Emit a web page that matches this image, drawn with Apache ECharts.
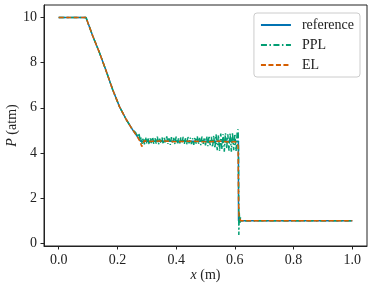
<!DOCTYPE html>
<html>
<head>
<meta charset="utf-8">
<script src="https://cdn.jsdelivr.net/npm/echarts@6/dist/echarts.min.js"></script>
<style>html,body{margin:0;padding:0;background:#fff}#c{width:374px;height:290px}</style>
</head>
<body>
<div id="c"></div>
<script>
// ---- data ----
var xTicks = [0.0, 0.2, 0.4, 0.6, 0.8, 1.0];
var yTicks = [0, 2, 4, 6, 8, 10];

var refX = [0, 0.093, 0.116, 0.139, 0.162, 0.184, 0.207, 0.230, 0.252, 0.269, 0.279, 0.612, 0.6125, 1.0];
var refP = [10, 10, 9.18, 8.44, 7.62, 6.80, 6.05, 5.48, 5.02, 4.70, 4.52, 4.52, 1.0, 1.0];

var pplX = [0, 0.093, 0.116, 0.139, 0.162, 0.184, 0.207, 0.230, 0.252, 0.262, 0.268, 0.273, 0.278, 0.281,
  0.284, 0.288, 0.292, 0.296, 0.300, 0.304, 0.308, 0.312, 0.316, 0.320, 0.324, 0.328, 0.332, 0.336, 0.340,
  0.344, 0.348, 0.352, 0.356, 0.360, 0.364, 0.368, 0.372, 0.376, 0.380, 0.384, 0.388, 0.392, 0.396, 0.400,
  0.404, 0.408, 0.412, 0.416, 0.420, 0.424, 0.428, 0.432, 0.436, 0.440, 0.444, 0.448, 0.452, 0.456, 0.460,
  0.464, 0.468, 0.472, 0.476, 0.480, 0.484, 0.488, 0.492, 0.496, 0.500, 0.504, 0.508, 0.512, 0.516, 0.520,
  0.524, 0.528, 0.532, 0.536, 0.540, 0.544, 0.548, 0.552, 0.556, 0.560, 0.564, 0.568, 0.572, 0.576, 0.580,
  0.584, 0.588, 0.592, 0.596, 0.600, 0.604, 0.608, 0.611, 0.6125, 0.6135, 0.615, 0.617, 0.619, 0.622, 1.0];
var pplP = [10, 10, 9.18, 8.44, 7.62, 6.80, 6.05, 5.48, 5.02, 4.90, 4.72, 4.88, 4.55, 4.70,
  4.40, 4.66, 4.38, 4.70, 4.42, 4.68, 4.36, 4.64, 4.44, 4.71, 4.39, 4.66, 4.41, 4.72, 4.37,
  4.63, 4.43, 4.69, 4.38, 4.67, 4.42, 4.73, 4.40, 4.65, 4.36, 4.70, 4.43, 4.67, 4.39, 4.72,
  4.41, 4.64, 4.37, 4.69, 4.44, 4.71, 4.40, 4.66, 4.38, 4.73, 4.42, 4.68, 4.39, 4.65, 4.36,
  4.70, 4.41, 4.74, 4.38, 4.67, 4.35, 4.72, 4.40, 4.69, 4.33, 4.74, 4.30, 4.76, 4.34, 4.71,
  4.25, 4.78, 4.20, 4.82, 4.12, 4.80, 4.08, 4.86, 4.15, 4.84, 4.06, 4.88, 4.18, 4.83, 4.10,
  4.87, 4.05, 4.90, 4.12, 4.85, 4.08, 4.92, 5.05, 4.20, 0.37, 1.35, 0.85, 1.15, 1.0, 1.0];

var elX = [0, 0.093, 0.116, 0.139, 0.162, 0.184, 0.207, 0.230, 0.252, 0.269, 0.277, 0.283, 0.287, 0.292,
  0.300, 0.350, 0.400, 0.450, 0.500, 0.550, 0.580, 0.600, 0.608, 0.611, 0.6125, 0.614, 0.616, 0.620, 1.0];
var elP = [10, 10, 9.18, 8.44, 7.62, 6.80, 6.05, 5.48, 5.02, 4.70, 4.50, 4.28, 4.42, 4.55,
  4.50, 4.53, 4.50, 4.52, 4.49, 4.52, 4.48, 4.50, 4.45, 4.30, 2.0, 1.2, 1.15, 1.0, 1.0];

var names = ['reference', 'PPL', 'EL'];
var colors = ['#0173B2', '#029E73', '#D55E00'];

function pairs(xs, ys) { return xs.map(function (x, i) { return [x, ys[i]]; }); }

var font = 'Liberation Serif';
var chart = echarts.init(document.getElementById('c'), null, { renderer: 'canvas' });
chart.setOption({
  animation: false,
  backgroundColor: '#fff',
  grid: { left: 44, right: 7, top: 5, bottom: 44, show: true, borderColor: '#222', borderWidth: 1,
    backgroundColor: 'transparent', containLabel: false, outerBoundsMode: 'none' },
  legend: {
    right: 14, top: 13, orient: 'vertical',
    data: names,
    itemWidth: 30, itemHeight: 14, itemGap: 6,
    padding: [5, 6, 5, 6],
    borderColor: '#ccc', borderWidth: 1, borderRadius: 3,
    backgroundColor: 'rgba(255,255,255,0.8)',
    itemStyle: { opacity: 0 },
    textStyle: { fontFamily: font, fontSize: 14, color: '#222', padding: [0, 0, 0, 6] }
  },
  xAxis: {
    type: 'value', min: -0.05, max: 1.05,
    name: '{i|x} (m)', nameLocation: 'middle', nameGap: 22, nameMoveOverlap: false,
    nameTextStyle: { fontFamily: font, fontSize: 14, color: '#222', rich: { i: { fontFamily: font, fontSize: 14, fontStyle: 'italic', color: '#222' } } },
    axisLine: { show: true, onZero: false, lineStyle: { color: '#222', width: 1 } },
    axisTick: { show: true, length: 3.5, lineStyle: { color: '#222' }, customValues: xTicks },
    axisLabel: { fontFamily: font, fontSize: 14, color: '#222', margin: 7, customValues: xTicks, formatter: function (v) { return v.toFixed(1); } },
    splitLine: { show: false }
  },
  yAxis: {
    type: 'value', min: -0.12, max: 10.55,
    name: '{i|P} (atm)', nameLocation: 'middle', nameGap: 25, nameMoveOverlap: false,
    nameTextStyle: { fontFamily: font, fontSize: 14, color: '#222', rich: { i: { fontFamily: font, fontSize: 14, fontStyle: 'italic', color: '#222' } } },
    axisLine: { show: true, onZero: false, lineStyle: { color: '#222', width: 1 } },
    axisTick: { show: true, length: 3.5, lineStyle: { color: '#222' }, customValues: yTicks },
    axisLabel: { fontFamily: font, fontSize: 14, color: '#222', margin: 7, customValues: yTicks, formatter: function (v) { return String(Math.round(v)); } },
    splitLine: { show: false }
  },
  series: [
    { name: names[0], type: 'line', data: pairs(refX, refP), showSymbol: false, symbol: 'none',
      lineStyle: { color: colors[0], width: 1.5 }, itemStyle: { color: colors[0] } },
    { name: names[1], type: 'line', data: pairs(pplX, pplP), showSymbol: false, symbol: 'none',
      lineStyle: { color: colors[1], width: 1.5, type: [6, 2.5, 1.5, 2.5] }, itemStyle: { color: colors[1] } },
    { name: names[2], type: 'line', data: pairs(elX, elP), showSymbol: false, symbol: 'none',
      lineStyle: { color: colors[2], width: 1.5, type: [5, 2.5] }, itemStyle: { color: colors[2] } }
  ]
});
</script>
</body>
</html>
